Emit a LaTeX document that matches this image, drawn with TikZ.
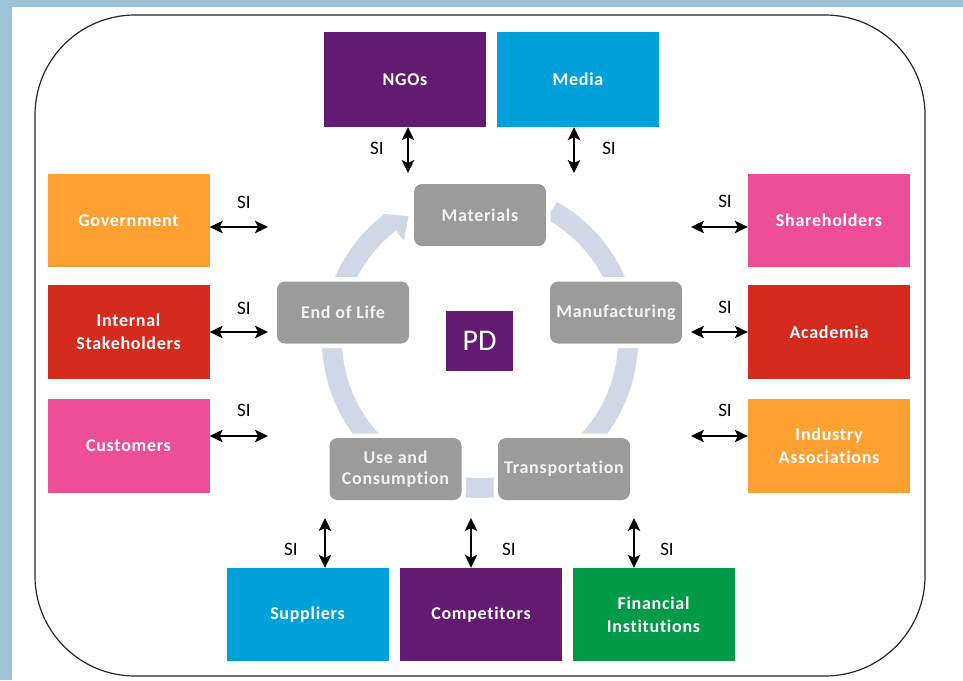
\documentclass[tikz,border=0pt]{standalone}
\usepackage{fontspec}
\setmainfont{Carlito}[Ligatures={NoCommon}]
\newfontfamily\boxfont{Carlito}[LetterSpace=4, Ligatures={NoCommon}]
\usetikzlibrary{arrows.meta,calc}
\definecolor{bandblue}{HTML}{9DC3D9}
\definecolor{cpurple}{HTML}{621B70}
\definecolor{cblue}{HTML}{00A0DA}
\definecolor{cpink}{HTML}{EE4E97}
\definecolor{cred}{HTML}{D52B1E}
\definecolor{corange}{HTML}{FFA032}
\definecolor{cgreen}{HTML}{009A48}
\definecolor{cgray}{HTML}{9B9B9B}
\definecolor{cring}{HTML}{D0D8E8}
\definecolor{stagetext}{HTML}{F2F2F2}
\begin{document}
\begin{tikzpicture}[x=1pt,y=-1pt,
  sbox/.style={minimum width=162pt, minimum height=94pt, inner sep=0pt, text=white,
    font=\boxfont\bfseries\fontsize{18}{23}\selectfont, align=center},
  stagebox/.style={fill=cgray, rounded corners=8pt, minimum width=132pt, minimum height=62pt,
    inner sep=0pt, text=stagetext, font=\boxfont\bfseries\fontsize{18}{21}\selectfont, align=center,
    preaction={draw=white, line width=9pt}},
  si/.style={{Stealth[length=13pt,width=12.5pt,inset=3pt]}-{Stealth[length=13pt,width=12.5pt,inset=3pt]}, line width=1.7pt, black},
  silabel/.style={font=\fontsize{19}{21}\selectfont, text=black, inner sep=0pt}
]
\useasboundingbox (0,0) rectangle (963,680);
\fill[bandblue] (0,0) rectangle (963,680);
\fill[white] (12,7) rectangle (963,680);
\draw[line width=1.2pt, draw=black!85, rounded corners=100pt] (35,15) rectangle (925,676);

% ring
\draw[cring, line width=20pt] plot[domain=-61:232.5, samples=150] ({480+148*cos(\x)},{340+148*sin(\x)});
\fill[cring] ({480+159*cos(232.5)},{340+159*sin(232.5)}) -- ({480+143*cos(240)},{340+143*sin(240)}) -- ({480+125*cos(232.5)},{340+125*sin(232.5)}) -- cycle;

% stages
\node[stagebox] (mat) at (480,215) {Materials};
\node[stagebox] (man) at (616,312.5) {Manufacturing};
\node[stagebox] (eol) at (343,312.5) {End of Life};
\node[stagebox] (use) at (395.5,469) {Use and\\Consumption};
\node[stagebox] (tra) at (564,469) {Transportation};
\node[fill=cpurple, minimum width=67pt, minimum height=60pt, inner sep=0pt, text=white,
  font=\fontsize{30}{32}\selectfont] (pd) at (479.5,341) {PD};

% stakeholders
\node[sbox, fill=cpurple, minimum height=95pt] (ngo) at (405,79.5) {NGOs};
\node[sbox, fill=cblue, minimum height=95pt] (med) at (578,79.5) {Media};
\node[sbox, fill=corange, minimum height=93pt] (gov) at (128.5,220.5) {Government};
\node[sbox, fill=cred] (int) at (128.5,332) {Internal\\Stakeholders};
\node[sbox, fill=cpink] (cus) at (128.5,446) {Customers};
\node[sbox, fill=cpink, minimum height=93pt] (sha) at (829,220.5) {Shareholders};
\node[sbox, fill=cred] (aca) at (829,332) {Academia};
\node[sbox, fill=corange] (ind) at (829,446) {Industry\\Associations};
\node[sbox, fill=cblue, minimum height=93pt] (sup) at (307.5,614.5) {Suppliers};
\node[sbox, fill=cpurple, minimum height=93pt] (com) at (481,614.5) {Competitors};
\node[sbox, fill=cgreen, minimum height=93pt] (fin) at (653.5,614.5) {Financial\\Institutions};

% arrow ends
\coordinate (ngoA) at (408,173);
\coordinate (medA) at (574,173);
\coordinate (govA) at (268,227);
\coordinate (intA) at (268,332);
\coordinate (cusA) at (268,436);
\coordinate (shaA) at (691,227);
\coordinate (acaA) at (691,332);
\coordinate (indA) at (691,436);
\coordinate (supA) at (325,518);
\coordinate (comA) at (471,518);
\coordinate (finA) at (634,518);

\draw[si] (ngoA |- ngo.south) -- (ngoA);
\draw[si] (medA |- med.south) -- (medA);
\draw[si] (govA -| gov.east) -- (govA);
\draw[si] (intA -| int.east) -- (intA);
\draw[si] (cusA -| cus.east) -- (cusA);
\draw[si] (shaA) -- (shaA -| sha.west);
\draw[si] (acaA) -- (acaA -| aca.west);
\draw[si] (indA) -- (indA -| ind.west);
\draw[si] (supA) -- (supA |- sup.north);
\draw[si] (comA) -- (comA |- com.north);
\draw[si] (finA) -- (finA |- fin.north);

% SI labels
\node[silabel] (l1) at (377,148) {SI};
\node[silabel] (l2) at (609,148) {SI};
\node[silabel] (l3) at (244,202) {SI};
\node[silabel] (l4) at (244,308) {SI};
\node[silabel] (l5) at (244,410) {SI};
\node[silabel] (l6) at (725,201) {SI};
\node[silabel] (l7) at (725,307) {SI};
\node[silabel] (l8) at (725,410) {SI};
\node[silabel] (l9) at (291,549) {SI};
\node[silabel] (l10) at (509,549) {SI};
\node[silabel] (l11) at (667,549) {SI};
\end{tikzpicture}
\end{document}
